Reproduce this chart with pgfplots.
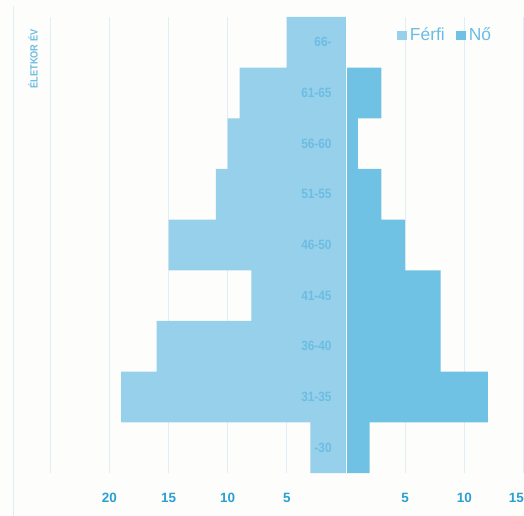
\documentclass[border=0pt]{standalone}
\usepackage{fontspec}
\setmainfont{Liberation Sans}
\newfontfamily\narrowfont[FakeStretch=0.88]{Liberation Sans}
\usepackage{pgfplots}
\pgfplotsset{compat=1.18}

\definecolor{ferfi}{RGB}{151,208,234}
\definecolor{no}{RGB}{112,194,228}
\definecolor{catlab}{RGB}{108,189,227}
\definecolor{ticklab}{RGB}{43,159,211}
\definecolor{gridc}{RGB}{226,238,246}
\definecolor{bgc}{RGB}{253,253,252}

\tikzset{catl/.style={anchor=east, text=catlab, font=\narrowfont\fontsize{13.5}{15}\selectfont\bfseries, inner sep=0pt}}

\begin{document}
\begin{tikzpicture}
\fill[bgc] (0,0) rectangle (524bp,516bp);
\path[use as bounding box] (0,0) rectangle (524bp,516bp);
\begin{axis}[
  at={(13bp,43bp)}, anchor=south west,
  width=511bp, height=456bp, scale only axis,
  xmin=-28.15, xmax=15.05, ymin=-0.5, ymax=8.5,
  clip=false,
  axis line style={draw=none},
  xbar, bar width=1, bar shift=0pt,
  xtick={-25,-20,-15,-10,-5,5,10,15},
  xticklabels={,20,15,10,5,5,10,\hspace*{-14bp}15},
  major tick length=0pt,
  xmajorgrids, grid style={gridc, line width=0.9bp},
  ytick=\empty,
  xticklabel style={anchor=base, yshift=-29bp, font=\fontsize{13.5}{15}\selectfont\bfseries, text=ticklab},
  legend style={at={(rel axis cs:0.752,0.9605)}, anchor=west, draw=none, fill=none,
    inner sep=0pt, legend columns=2, font=\fontsize{17.5}{19}\selectfont, text=catlab,
    nodes={inner ysep=1.5bp, inner xsep=2.5bp},
    /tikz/every even column/.append style={column sep=9bp}},
  legend image code/.code={\fill (0bp,-4.5bp) rectangle (10bp,4.5bp);},
]
% Férfi (balra, negatív)
\addplot[fill=ferfi, draw=none] coordinates {
  (-3,0) (-19,1) (-16,2) (-8,3) (-15,4) (-11,5) (-10,6) (-9,7) (-5,8)};
\addlegendentry{Férfi}
% Nő (jobbra)
\addplot[fill=no, draw=none] coordinates {
  (2,0) (12,1) (8,2) (8,3) (5,4) (3,5) (1,6) (3,7) (0,8)};
\addlegendentry{Nő}

\draw[white, line width=0.8bp] (axis cs:0,-0.5) -- (axis cs:0,8.5);
\draw[gridc, line width=0.9bp] (axis cs:-28.15,8.72) -- (axis cs:-28.15,-1.35);

\node[catl] at (axis cs:-1.2,0) {-30};
\node[catl] at (axis cs:-1.2,1) {31-35};
\node[catl] at (axis cs:-1.2,2) {36-40};
\node[catl] at (axis cs:-1.2,3) {41-45};
\node[catl] at (axis cs:-1.2,4) {46-50};
\node[catl] at (axis cs:-1.2,5) {51-55};
\node[catl] at (axis cs:-1.2,6) {56-60};
\node[catl] at (axis cs:-1.2,7) {61-65};
\node[catl] at (axis cs:-1.2,8) {66-};
\node[rotate=90, text=catlab, font=\narrowfont\fontsize{10.5}{12}\selectfont\bfseries]
  at (axis cs:-26.46,7.67) {ÉLETKOR ÉV};
\end{axis}
\end{tikzpicture}
\end{document}
